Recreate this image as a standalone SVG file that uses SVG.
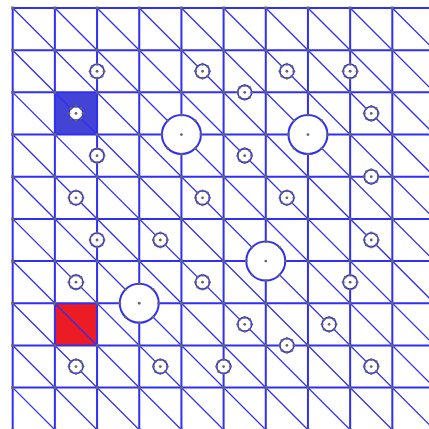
<svg xmlns="http://www.w3.org/2000/svg" xmlns:xlink="http://www.w3.org/1999/xlink" width="429" height="429" viewBox="0 0 429 429">
<style>
.grid{stroke:#2f2ff6;stroke-width:2;fill:none}
.diag{stroke:#2f2ff6;stroke-width:1.3;fill:none}
.ring{fill:#fff;stroke:#2f2ff6;stroke-width:1.6}
.dot{fill:#666}
</style>
<defs>
<pattern id="vdots" patternUnits="userSpaceOnUse" x="-8.39" y="-13.09" width="42.18" height="42.18">
<rect x="19.59" y="19.59" width="3" height="3" fill="#666"/>
</pattern>
<g id="small">
<circle class="ring" r="7"/>
<g class="dot">
<circle r="1.4"/>
<circle cx="7" cy="0" r="1.4"/><circle cx="-7" cy="0" r="1.4"/>
<circle cx="0" cy="7" r="1.4"/><circle cx="0" cy="-7" r="1.4"/>
<circle cx="4.95" cy="4.95" r="1.4"/><circle cx="-4.95" cy="4.95" r="1.4"/>
<circle cx="4.95" cy="-4.95" r="1.4"/><circle cx="-4.95" cy="-4.95" r="1.4"/>
</g>
</g>
<g id="large">
<circle class="ring" r="19.5" style="stroke-width:2"/>
<g class="dot">
<circle r="1.4"/>
<circle cx="19.5" cy="0" r="1.4"/><circle cx="-19.5" cy="0" r="1.4"/>
<circle cx="0" cy="19.5" r="1.4"/><circle cx="0" cy="-19.5" r="1.4"/>
<circle cx="13.79" cy="13.79" r="1.4"/><circle cx="-13.79" cy="13.79" r="1.4"/>
<circle cx="13.79" cy="-13.79" r="1.4"/><circle cx="-13.79" cy="-13.79" r="1.4"/>
</g>
</g>
</defs>
<rect width="429" height="429" fill="#fff"/>
<g id="cells">
<rect id="cell-blue" x="54.88" y="92.36" width="42.18" height="42.18" fill="#4343d6"/>
<rect id="cell-red" x="54.88" y="303.26" width="42.18" height="42.18" fill="#ec1c24"/>
</g>
<g id="connectors">
<path class="grid" d="M12.7 8V430M54.88 8V430M97.06 8V430M139.24 8V430M181.42 8V430M223.6 8V430M265.78 8V430M307.96 8V430M350.14 8V430M392.32 8V430
M12.7 8H435M12.7 50.18H435M12.7 92.36H435M12.7 134.54H435M12.7 176.72H435M12.7 218.9H435M12.7 261.08H435M12.7 303.26H435M12.7 345.44H435M12.7 387.62H435"/>
<path class="diag" d="M12.7 8L434.5 429.8M54.88 8L434.5 387.62M97.06 8L434.5 345.44M139.24 8L434.5 303.26M181.42 8L434.5 261.08M223.6 8L434.5 218.9M265.78 8L434.5 176.72M307.96 8L434.5 134.54M350.14 8L434.5 92.36M392.32 8L434.5 50.18
M12.7 50.18L392.32 429.8M12.7 92.36L350.14 429.8M12.7 134.54L307.96 429.8M12.7 176.72L265.78 429.8M12.7 218.9L223.6 429.8M12.7 261.08L181.42 429.8M12.7 303.26L139.24 429.8M12.7 345.44L97.06 429.8M12.7 387.62L54.88 429.8"/>
<rect x="0" y="0" width="429" height="429" fill="url(#vdots)"/>
</g>
<g id="nodes">
<g id="s1"><use xlink:href="#small" x="97.06" y="71.27"/></g>
<g id="s2"><use xlink:href="#small" x="202.51" y="71.27"/></g>
<g id="s3"><use xlink:href="#small" x="286.87" y="71.27"/></g>
<g id="s4"><use xlink:href="#small" x="350.14" y="71.27"/></g>
<g id="s5"><use xlink:href="#small" x="244.69" y="92.36"/></g>
<g id="s6"><use xlink:href="#small" x="75.97" y="113.45"/></g>
<g id="s7"><use xlink:href="#small" x="371.23" y="113.45"/></g>
<g id="s8"><use xlink:href="#small" x="97.06" y="155.63"/></g>
<g id="s9"><use xlink:href="#small" x="244.69" y="155.63"/></g>
<g id="s10"><use xlink:href="#small" x="371.23" y="176.72"/></g>
<g id="s11"><use xlink:href="#small" x="75.97" y="197.81"/></g>
<g id="s12"><use xlink:href="#small" x="202.51" y="197.81"/></g>
<g id="s13"><use xlink:href="#small" x="286.87" y="197.81"/></g>
<g id="s14"><use xlink:href="#small" x="97.06" y="239.99"/></g>
<g id="s15"><use xlink:href="#small" x="160.33" y="239.99"/></g>
<g id="s16"><use xlink:href="#small" x="371.23" y="239.99"/></g>
<g id="s17"><use xlink:href="#small" x="75.97" y="282.17"/></g>
<g id="s18"><use xlink:href="#small" x="202.51" y="282.17"/></g>
<g id="s19"><use xlink:href="#small" x="350.14" y="282.17"/></g>
<g id="s20"><use xlink:href="#small" x="244.69" y="324.35"/></g>
<g id="s21"><use xlink:href="#small" x="329.05" y="324.35"/></g>
<g id="s22"><use xlink:href="#small" x="286.87" y="345.44"/></g>
<g id="s23"><use xlink:href="#small" x="75.97" y="366.53"/></g>
<g id="s24"><use xlink:href="#small" x="160.33" y="366.53"/></g>
<g id="s25"><use xlink:href="#small" x="223.6" y="366.53"/></g>
<g id="s26"><use xlink:href="#small" x="371.23" y="366.53"/></g>
<g id="L1"><use xlink:href="#large" x="181.42" y="134.54"/></g>
<g id="L2"><use xlink:href="#large" x="307.96" y="134.54"/></g>
<g id="L3"><use xlink:href="#large" x="265.78" y="261.08"/></g>
<g id="L4"><use xlink:href="#large" x="139.24" y="303.26"/></g>
</g>
</svg>
